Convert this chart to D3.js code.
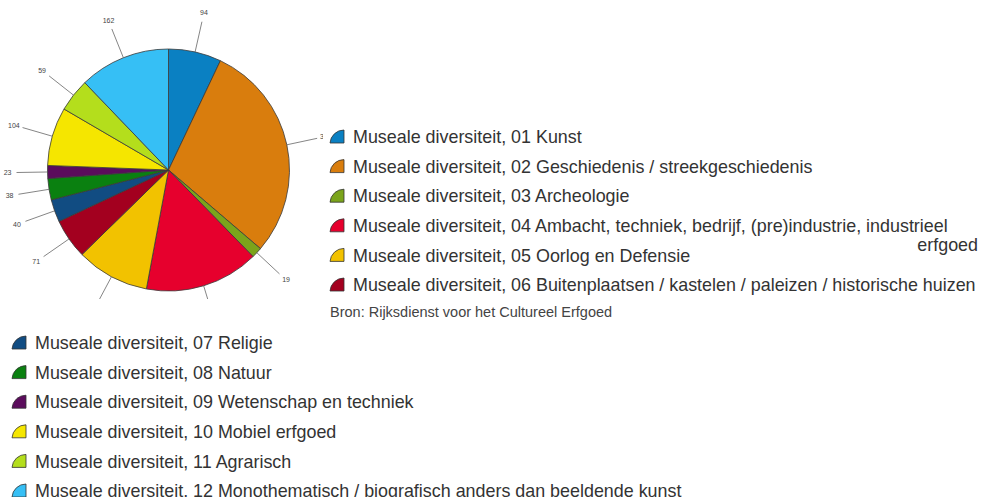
<!DOCTYPE html>
<html>
<head>
<meta charset="utf-8">
<script src="https://cdn.jsdelivr.net/npm/d3@7"></script>
<style>
  body { margin: 0; background: #fff; }
  svg { display: block; font-family: "Liberation Sans", Arial, sans-serif; }
</style>
</head>
<body>
<svg id="chart" width="981" height="497"></svg>
<script>
const categories = [
  "Museale diversiteit, 01 Kunst",
  "Museale diversiteit, 02 Geschiedenis / streekgeschiedenis",
  "Museale diversiteit, 03 Archeologie",
  "Museale diversiteit, 04 Ambacht, techniek, bedrijf, (pre)industrie, industrieel erfgoed",
  "Museale diversiteit, 05 Oorlog en Defensie",
  "Museale diversiteit, 06 Buitenplaatsen / kastelen / paleizen / historische huizen",
  "Museale diversiteit, 07 Religie",
  "Museale diversiteit, 08 Natuur",
  "Museale diversiteit, 09 Wetenschap en techniek",
  "Museale diversiteit, 10 Mobiel erfgoed",
  "Museale diversiteit, 11 Agrarisch",
  "Museale diversiteit, 12 Monothematisch / biografisch anders dan beeldende kunst"
];
const values = [94, 389, 19, 203, 130, 71, 40, 38, 23, 104, 59, 162];
const colors = ["#0a80c2", "#d97d0d", "#7ba41b", "#e6002d", "#f2c200", "#a3001f",
                "#114c82", "#0a8010", "#5b0c5c", "#f5e600", "#b4de1c", "#36bff5"];
const source = "Bron: Rijksdienst voor het Cultureel Erfgoed";

const svg = d3.select("#chart");
const data = values.map((v, i) => ({ name: categories[i], value: v, color: colors[i] }));

// pie (cropped in the original picture)
svg.append("clipPath").attr("id", "pieClip")
  .append("rect").attr("x", 0).attr("y", 0).attr("width", 323).attr("height", 299);

const g = svg.append("g").attr("clip-path", "url(#pieClip)")
  .append("g").attr("transform", "translate(168.5,170)");

const radius = 121;
const pie = d3.pie().value(d => d.value).sort(null);
const arcs = pie(data);
const arc = d3.arc().innerRadius(0).outerRadius(radius);
const lineStart = d3.arc().innerRadius(radius).outerRadius(radius);
const lineEnd = d3.arc().innerRadius(152).outerRadius(152);
const labelArc = d3.arc().innerRadius(161).outerRadius(161);

g.selectAll("path.slice")
  .data(arcs)
  .enter()
  .append("path")
  .attr("class", "slice")
  .attr("d", arc)
  .attr("fill", d => d.data.color)
  .attr("stroke", "#3a3a3a")
  .attr("stroke-width", 0.8);

g.selectAll("line.leader")
  .data(arcs)
  .enter()
  .append("line")
  .attr("class", "leader")
  .attr("x1", d => lineStart.centroid(d)[0])
  .attr("y1", d => lineStart.centroid(d)[1])
  .attr("x2", d => lineEnd.centroid(d)[0])
  .attr("y2", d => lineEnd.centroid(d)[1])
  .attr("stroke", "#666")
  .attr("stroke-width", 0.8);

g.selectAll("text.val")
  .data(arcs)
  .enter()
  .append("text")
  .attr("class", "val")
  .attr("x", d => labelArc.centroid(d)[0])
  .attr("y", d => labelArc.centroid(d)[1])
  .attr("dy", "0.35em")
  .attr("text-anchor", "middle")
  .attr("font-size", 7)
  .attr("fill", "#444")
  .text(d => d.value);

// legend icon: quarter wedge, flat bottom and right side
const iconPath = "M14,0 L14,13 L0,13 A14,14 0 0 1 14,0 Z";
const fontSize = 17.9;

function legendItem(sel, d, x, y) {
  const item = sel.append("g").attr("transform", `translate(${x},${y})`);
  item.append("path")
    .attr("d", iconPath)
    .attr("transform", "translate(0,-7)")
    .attr("fill", d.color)
    .attr("stroke", "#333")
    .attr("stroke-width", 0.8);
  return item.append("text")
    .attr("x", 23)
    .attr("y", 0)
    .attr("dy", "0.35em")
    .attr("font-size", fontSize)
    .attr("fill", "#333")
    .text(d.name);
}

const legend1 = svg.append("g");
const rowStep = 29.6;
const rightEdge = 978;
data.slice(0, 6).forEach((d, i) => {
  const x = 330, y = 137 + i * rowStep;
  const t = legendItem(legend1, d, x, y);
  const maxW = 640;
  if (t.node().getComputedTextLength() > maxW) {
    const words = d.name.split(" ");
    const rest = [];
    while (words.length > 1 && t.node().getComputedTextLength() > maxW) {
      rest.unshift(words.pop());
      t.text(words.join(" "));
    }
    legend1.append("text")
      .attr("x", rightEdge)
      .attr("y", y + 19)
      .attr("dy", "0.35em")
      .attr("text-anchor", "end")
      .attr("font-size", fontSize)
      .attr("fill", "#333")
      .text(rest.join(" "));
  }
});

svg.append("text")
  .attr("x", 330)
  .attr("y", 312)
  .attr("dy", "0.35em")
  .attr("font-size", 14.5)
  .attr("fill", "#444")
  .text(source);

const legend2 = svg.append("g");
data.slice(6).forEach((d, i) => {
  legendItem(legend2, d, 12, 343 + i * rowStep);
});
</script>
</body>
</html>
